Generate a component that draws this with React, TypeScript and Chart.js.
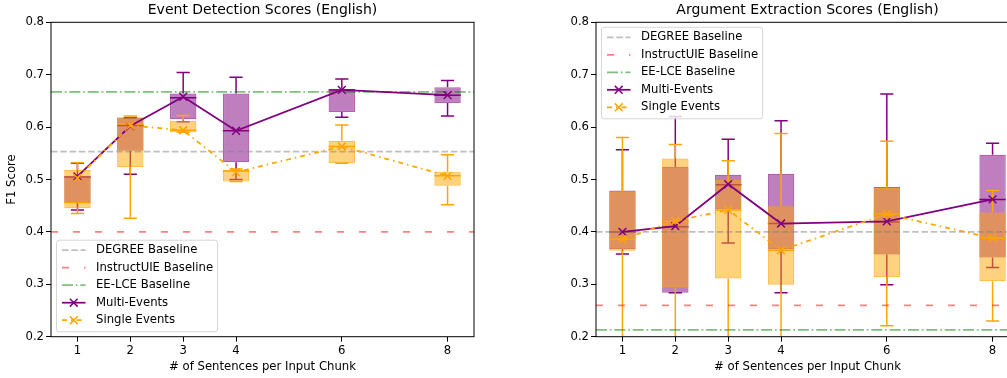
import React, { useEffect, useRef } from 'react';
import { Chart, registerables } from 'chart.js';

Chart.register(...registerables);

// ---------- shared axis data ----------
const X_VALUES = [1, 2, 3, 4, 6, 8];
const X_TICKS = [1, 2, 3, 4, 6, 8];
const Y_TICKS = [0.2, 0.3, 0.4, 0.5, 0.6, 0.7, 0.8];
const X_MIN = 0.5;
const X_MAX = 8.5;
const Y_MIN = 0.2;
const Y_MAX = 0.8;
const BOX_WIDTH = 0.5;

const TITLE_ED = 'Event Detection Scores (English)';
const TITLE_EAE = 'Argument Extraction Scores (English)';
const X_TITLE = '# of Sentences per Input Chunk';
const Y_TITLE = 'F1 Score';
const LEGEND_LABELS = ['DEGREE Baseline', 'InstructUIE Baseline', 'EE-LCE Baseline', 'Multi-Events', 'Single Events'];

// ---------- Event Detection (left) ----------
const ED_BASE_DEGREE = 0.553;
const ED_BASE_INSTRUCTUIE = 0.4;
const ED_BASE_EELCE = 0.667;

const ED_MULTI_LOW = [0.442, 0.51, 0.61, 0.5, 0.619, 0.621];
const ED_MULTI_Q1 = [0.456, 0.555, 0.615, 0.533, 0.629, 0.646];
const ED_MULTI_MED = [0.505, 0.603, 0.656, 0.593, 0.671, 0.661];
const ED_MULTI_Q3 = [0.507, 0.618, 0.664, 0.664, 0.673, 0.676];
const ED_MULTI_HIGH = [0.531, 0.618, 0.704, 0.695, 0.692, 0.689];
const ED_MULTI_MEAN = [0.506, 0.602, 0.658, 0.593, 0.671, 0.661];

const ED_SINGLE_LOW = [0.435, 0.426, 0.59, 0.496, 0.531, 0.452];
const ED_SINGLE_Q1 = [0.445, 0.524, 0.59, 0.496, 0.531, 0.488];
const ED_SINGLE_MED = [0.456, 0.606, 0.594, 0.516, 0.563, 0.507];
const ED_SINGLE_Q3 = [0.518, 0.619, 0.612, 0.518, 0.574, 0.515];
const ED_SINGLE_HIGH = [0.532, 0.621, 0.622, 0.52, 0.604, 0.547];
const ED_SINGLE_MEAN = [0.503, 0.603, 0.594, 0.514, 0.563, 0.507];

// ---------- Argument Extraction (right) ----------
const EAE_BASE_DEGREE = 0.4;
const EAE_BASE_INSTRUCTUIE = 0.26;
const EAE_BASE_EELCE = 0.213;

const EAE_MULTI_LOW = [0.358, 0.284, 0.379, 0.284, 0.299, 0.332];
const EAE_MULTI_Q1 = [0.367, 0.284, 0.443, 0.367, 0.357, 0.351];
const EAE_MULTI_MED = [0.4, 0.41, 0.49, 0.416, 0.419, 0.462];
const EAE_MULTI_Q3 = [0.479, 0.524, 0.509, 0.511, 0.486, 0.547];
const EAE_MULTI_HIGH = [0.557, 0.62, 0.577, 0.612, 0.663, 0.569];
const EAE_MULTI_MEAN = [0.4, 0.411, 0.491, 0.416, 0.42, 0.462];

const EAE_SINGLE_LOW = [0.17, 0.16, 0.18, 0.17, 0.221, 0.23];
const EAE_SINGLE_Q1 = [0.364, 0.294, 0.311, 0.299, 0.314, 0.306];
const EAE_SINGLE_MED = [0.386, 0.42, 0.442, 0.365, 0.434, 0.388];
const EAE_SINGLE_Q3 = [0.477, 0.54, 0.499, 0.449, 0.484, 0.437];
const EAE_SINGLE_HIGH = [0.58, 0.567, 0.536, 0.588, 0.573, 0.479];
const EAE_SINGLE_MEAN = [0.386, 0.421, 0.442, 0.365, 0.434, 0.388];

// ---------- styles ----------
const FONT = 'DejaVu Sans';
const FS = 11.67;
const PURPLE = '#800080';
const ORANGE = '#FFA500';
const PURPLE_FILL = 'rgba(128,0,128,0.5)';
const ORANGE_FILL = 'rgba(255,165,0,0.5)';
const PURPLE_EDGE = 'rgba(128,0,128,0.62)';
const ORANGE_EDGE = 'rgba(255,165,0,0.7)';
const GRAY_BASE = 'rgba(128,128,128,0.5)';
const RED_BASE = 'rgba(255,0,0,0.5)';
const GREEN_BASE = 'rgba(0,128,0,0.5)';
const DASH_DEGREE = [6.5, 2.8];
const DASH_INSTRUCT = [7, 15];
const DASH_EELCE = [11, 2.8, 1.75, 2.8];
const DASH_SINGLE = [5, 4, 1.5, 4];

type Series = { low: number[]; q1: number[]; med: number[]; q3: number[]; high: number[]; mean: number[] };

function halfBoxPx(ctx: any): number {
  const xs = ctx.chart.scales.x;
  return Math.abs(xs.getPixelForValue(BOX_WIDTH / 2) - xs.getPixelForValue(0));
}

function boxDatasets(s: Series, color: string, fill: string, edge: string, orderBase: number) {
  const whiskers: any[] = [];
  X_VALUES.forEach((x, i) => {
    whiskers.push({ x, y: s.high[i] }, { x, y: s.q3[i] }, { x, y: null });
    whiskers.push({ x, y: s.q1[i] }, { x, y: s.low[i] }, { x, y: null });
  });
  const caps: any[] = [];
  X_VALUES.forEach((x, i) => {
    caps.push({ x, y: s.low[i] }, { x, y: s.high[i] });
  });
  return [
    {
      type: 'bar',
      data: X_VALUES.map((x, i) => ({ x, y: [s.q1[i], s.q3[i]] })),
      backgroundColor: fill,
      borderColor: edge,
      borderWidth: 1.2,
      borderSkipped: false,
      grouped: false,
      categoryPercentage: 1,
      barPercentage: BOX_WIDTH,
      order: orderBase + 3,
    },
    {
      type: 'line',
      data: whiskers,
      borderColor: color,
      borderWidth: 1.5,
      pointRadius: 0,
      spanGaps: false,
      fill: false,
      order: orderBase + 2,
    },
    {
      type: 'scatter',
      data: caps,
      pointStyle: 'line',
      pointRadius: (ctx: any) => halfBoxPx(ctx) / 2,
      pointBorderColor: color,
      pointBorderWidth: 1.5,
      order: orderBase + 1,
    },
    {
      type: 'scatter',
      data: X_VALUES.map((x, i) => ({ x, y: s.med[i] })),
      pointStyle: 'line',
      pointRadius: (ctx: any) => halfBoxPx(ctx),
      pointBorderColor: color,
      pointBorderWidth: 1.5,
      order: orderBase,
    },
  ];
}

function baseline(v: number, color: string, dash: number[], order: number) {
  return {
    type: 'line',
    data: [
      { x: X_MIN, y: v },
      { x: X_MAX, y: v },
    ],
    borderColor: color,
    borderWidth: 1.75,
    borderDash: dash,
    pointRadius: 0,
    fill: false,
    order,
  };
}

function meanLine(vals: number[], color: string, dash: number[], order: number) {
  return {
    type: 'line',
    data: X_VALUES.map((x, i) => ({ x, y: vals[i] })),
    borderColor: color,
    borderWidth: 1.75,
    borderDash: dash,
    tension: 0,
    fill: false,
    pointStyle: 'crossRot',
    pointRadius: 5.5,
    pointBorderColor: color,
    pointBackgroundColor: 'transparent',
    pointBorderWidth: 1.5,
    order,
  };
}

type LegendItem = { label: string; color: string; dash: number[]; marker: boolean };

const LEGEND_ITEMS: LegendItem[] = [
  { label: LEGEND_LABELS[0], color: GRAY_BASE, dash: DASH_DEGREE, marker: false },
  { label: LEGEND_LABELS[1], color: RED_BASE, dash: DASH_INSTRUCT, marker: false },
  { label: LEGEND_LABELS[2], color: GREEN_BASE, dash: DASH_EELCE, marker: false },
  { label: LEGEND_LABELS[3], color: PURPLE, dash: [], marker: true },
  { label: LEGEND_LABELS[4], color: ORANGE, dash: DASH_SINGLE, marker: true },
];

function legendPlugin(corner: 'lower' | 'upper') {
  return {
    id: 'mplLegend',
    afterDraw(chart: any) {
      const { ctx, chartArea: ca } = chart;
      ctx.save();
      ctx.font = `${FS}px "${FONT}"`;
      const maxW = Math.max(...LEGEND_ITEMS.map((it) => ctx.measureText(it.label).width));
      const w = 39.5 + maxW + 4.5;
      const h = 91.5;
      const left = ca.left + 5.5;
      const top = corner === 'lower' ? ca.bottom - 5 - h : ca.top + 5;
      ctx.beginPath();
      if (ctx.roundRect) ctx.roundRect(left, top, w, h, 2.5);
      else ctx.rect(left, top, w, h);
      ctx.fillStyle = 'rgba(255,255,255,0.8)';
      ctx.fill();
      ctx.lineWidth = 1;
      ctx.strokeStyle = 'rgba(204,204,204,0.8)';
      ctx.stroke();
      LEGEND_ITEMS.forEach((it, k) => {
        const y = top + 10 + k * 17.5;
        ctx.beginPath();
        ctx.setLineDash(it.dash);
        ctx.lineDashOffset = 0;
        ctx.strokeStyle = it.color;
        ctx.lineWidth = 1.75;
        ctx.moveTo(left + 5.5, y);
        ctx.lineTo(left + 29, y);
        ctx.stroke();
        ctx.setLineDash([]);
        if (it.marker) {
          const cx = left + 17.25;
          const r = 3.9;
          ctx.beginPath();
          ctx.lineWidth = 1.5;
          ctx.moveTo(cx - r, y - r);
          ctx.lineTo(cx + r, y + r);
          ctx.moveTo(cx + r, y - r);
          ctx.lineTo(cx - r, y + r);
          ctx.stroke();
        }
        ctx.fillStyle = '#000';
        ctx.textAlign = 'left';
        ctx.textBaseline = 'middle';
        ctx.fillText(it.label, left + 39.5, y);
      });
      ctx.restore();
    },
  };
}

const framePlugin = {
  id: 'frame',
  afterDatasetsDraw(chart: any) {
    const { ctx, chartArea: ca } = chart;
    ctx.save();
    ctx.strokeStyle = '#000';
    ctx.lineWidth = 1;
    ctx.setLineDash([]);
    ctx.strokeRect(ca.left, ca.top, ca.right - ca.left, ca.bottom - ca.top);
    ctx.restore();
  },
};

type PanelCfg = {
  title: string;
  showYTitle: boolean;
  multi: Series;
  single: Series;
  degree: number;
  instruct: number;
  eelce: number;
  legendCorner: 'lower' | 'upper';
};

function makeConfig(p: PanelCfg): any {
  const datasets = [
    ...boxDatasets(p.multi, PURPLE, PURPLE_FILL, PURPLE_EDGE, 20),
    ...boxDatasets(p.single, ORANGE, ORANGE_FILL, ORANGE_EDGE, 10),
    baseline(p.degree, GRAY_BASE, DASH_DEGREE, 5),
    baseline(p.instruct, RED_BASE, DASH_INSTRUCT, 4),
    baseline(p.eelce, GREEN_BASE, DASH_EELCE, 3),
    meanLine(p.multi.mean, PURPLE, [], 1),
    meanLine(p.single.mean, ORANGE, DASH_SINGLE, 0),
  ];
  const tickFont = { family: FONT, size: FS };
  return {
    type: 'bar',
    data: { datasets },
    plugins: [framePlugin, legendPlugin(p.legendCorner)],
    options: {
      animation: false,
      responsive: false,
      devicePixelRatio: 1,
      events: [],
      layout: { padding: { left: 0, right: 26, top: 0, bottom: 0 } },
      plugins: {
        legend: { display: false },
        tooltip: { enabled: false },
        title: {
          display: true,
          text: p.title,
          fullSize: false,
          color: '#000',
          font: { family: FONT, size: 14, weight: 'normal' },
          padding: { top: 2.3, bottom: 3.2 },
        },
      },
      scales: {
        x: {
          type: 'linear',
          min: X_MIN,
          max: X_MAX,
          offset: false,
          afterBuildTicks: (s: any) => {
            s.ticks = X_TICKS.map((v) => ({ value: v }));
          },
          afterFit: (s: any) => {
            s.height = 41.3;
          },
          ticks: {
            color: '#000',
            font: tickFont,
            padding: 2.5,
            maxRotation: 0,
            autoSkip: false,
            callback: (v: any) => String(v),
          },
          grid: {
            display: true,
            offset: false,
            drawOnChartArea: false,
            drawTicks: true,
            tickLength: 5,
            tickColor: '#000',
            tickWidth: 1,
          },
          border: { display: false },
          title: {
            display: true,
            text: X_TITLE,
            color: '#000',
            font: tickFont,
            padding: { top: 0, bottom: 4 },
          },
        },
        y: {
          type: 'linear',
          min: Y_MIN,
          max: Y_MAX,
          afterBuildTicks: (s: any) => {
            s.ticks = Y_TICKS.map((v) => ({ value: v }));
          },
          afterFit: (s: any) => {
            s.width = 51;
          },
          ticks: {
            color: '#000',
            font: tickFont,
            padding: 2,
            autoSkip: false,
            callback: (v: any) => Number(v).toFixed(1),
          },
          grid: {
            display: true,
            drawOnChartArea: false,
            drawTicks: true,
            tickLength: 5,
            tickColor: '#000',
            tickWidth: 1,
          },
          border: { display: false },
          title: {
            display: p.showYTitle,
            text: Y_TITLE,
            color: '#000',
            font: tickFont,
            padding: { top: 5, bottom: 0 },
          },
        },
      },
    },
  };
}

function Panel({ cfg, left }: { cfg: PanelCfg; left: number }) {
  const ref = useRef<HTMLCanvasElement>(null);
  useEffect(() => {
    if (!ref.current) return;
    const chart = new Chart(ref.current, makeConfig(cfg));
    return () => chart.destroy();
  }, []);
  return (
    <canvas
      ref={ref}
      width={500}
      height={378}
      style={{ position: 'absolute', left, top: 0, width: 500, height: 378 }}
    />
  );
}

const ED_PANEL: PanelCfg = {
  title: TITLE_ED,
  showYTitle: true,
  multi: { low: ED_MULTI_LOW, q1: ED_MULTI_Q1, med: ED_MULTI_MED, q3: ED_MULTI_Q3, high: ED_MULTI_HIGH, mean: ED_MULTI_MEAN },
  single: { low: ED_SINGLE_LOW, q1: ED_SINGLE_Q1, med: ED_SINGLE_MED, q3: ED_SINGLE_Q3, high: ED_SINGLE_HIGH, mean: ED_SINGLE_MEAN },
  degree: ED_BASE_DEGREE,
  instruct: ED_BASE_INSTRUCTUIE,
  eelce: ED_BASE_EELCE,
  legendCorner: 'lower',
};

const EAE_PANEL: PanelCfg = {
  title: TITLE_EAE,
  showYTitle: false,
  multi: { low: EAE_MULTI_LOW, q1: EAE_MULTI_Q1, med: EAE_MULTI_MED, q3: EAE_MULTI_Q3, high: EAE_MULTI_HIGH, mean: EAE_MULTI_MEAN },
  single: { low: EAE_SINGLE_LOW, q1: EAE_SINGLE_Q1, med: EAE_SINGLE_MED, q3: EAE_SINGLE_Q3, high: EAE_SINGLE_HIGH, mean: EAE_SINGLE_MEAN },
  degree: EAE_BASE_DEGREE,
  instruct: EAE_BASE_INSTRUCTUIE,
  eelce: EAE_BASE_EELCE,
  legendCorner: 'upper',
};

export default function App() {
  return (
    <div
      style={{
        position: 'absolute',
        left: 0,
        top: 0,
        width: 1007,
        height: 378,
        overflow: 'hidden',
        background: '#fff',
      }}
    >
      <Panel cfg={ED_PANEL} left={0} />
      <Panel cfg={EAE_PANEL} left={545} />
    </div>
  );
}
